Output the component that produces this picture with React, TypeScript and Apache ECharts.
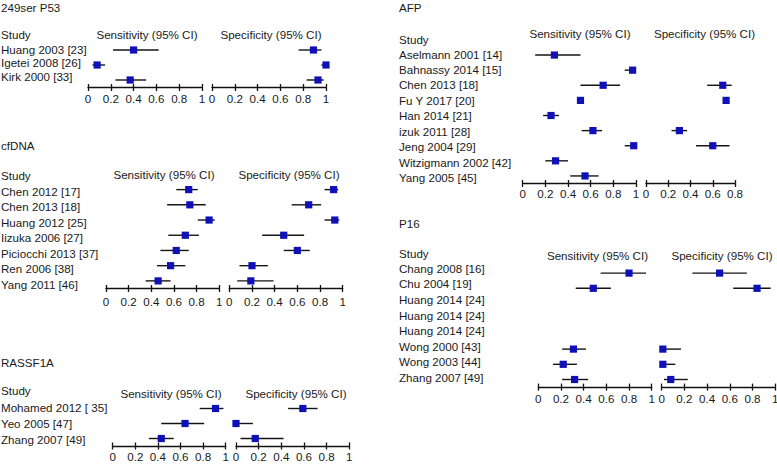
import React, { useEffect, useRef } from "react";
import * as echarts from "echarts";

// ---------- DATA ----------
const p53Studies = ["Huang 2003 [23]", "Igetei 2008 [26]", "Kirk 2000 [33]"];
const p53Sens = [0.4, 0.08, 0.37];
const p53SensLo = [0.22, 0.04, 0.24];
const p53SensHi = [0.62, 0.15, 0.51];
const p53Spec = [0.89, 1.0, 0.93];
const p53SpecLo = [0.76, 0.96, 0.83];
const p53SpecHi = [0.96, 1.0, 0.98];

const cfStudies = ["Chen 2012 [17]", "Chen 2013 [18]", "Huang 2012 [25]", "Iizuka 2006 [27]", "Piciocchi 2013 [37]", "Ren 2006 [38]", "Yang 2011 [46]"];
const cfSens = [0.73, 0.74, 0.91, 0.7, 0.62, 0.57, 0.46];
const cfSensLo = [0.62, 0.54, 0.81, 0.55, 0.48, 0.45, 0.35];
const cfSensHi = [0.81, 0.88, 0.96, 0.82, 0.73, 0.7, 0.57];
const cfSpec = [0.92, 0.7, 0.93, 0.48, 0.6, 0.2, 0.19];
const cfSpecLo = [0.84, 0.55, 0.84, 0.29, 0.48, 0.09, 0.07];
const cfSpecHi = [0.96, 0.81, 0.97, 0.66, 0.71, 0.34, 0.39];

const raStudies = ["Mohamed 2012 [ 35]", "Yeo 2005 [47]", "Zhang 2007 [49]"];
const raSens = [0.91, 0.64, 0.43];
const raSensLo = [0.77, 0.43, 0.32];
const raSensHi = [0.98, 0.81, 0.54];
const raSpec = [0.59, 0.0, 0.17];
const raSpecLo = [0.46, 0.0, 0.04];
const raSpecHi = [0.72, 0.15, 0.42];

const afpStudies = ["Aselmann 2001 [14]", "Bahnassy 2014 [15]", "Chen 2013 [18]", "Fu Y 2017 [20]", "Han 2014 [21]", "izuk 2011 [28]", "Jeng 2004 [29]", "Witzigmann 2002 [42]", "Yang 2005 [45]"];
const afpSens = [0.28, 0.97, 0.71, 0.51, 0.25, 0.62, 0.98, 0.29, 0.55];
const afpSensLo = [0.11, 0.9, 0.51, 0.49, 0.18, 0.52, 0.9, 0.2, 0.42];
const afpSensHi = [0.51, 0.99, 0.86, 0.52, 0.32, 0.7, 0.99, 0.4, 0.67];
const afpSpec = [null, null, 0.69, 0.72, null, 0.3, 0.6, null, null];
const afpSpecLo = [null, null, 0.55, 0.71, null, 0.23, 0.45, null, null];
const afpSpecHi = [null, null, 0.77, 0.73, null, 0.37, 0.75, null, null];

const p16Studies = ["Chang 2008 [16]", "Chu 2004 [19]", "Huang 2014 [24]", "Huang 2014 [24]", "Huang 2014 [24]", "Wong 2000 [43]", "Wong 2003 [44]", "Zhang 2007 [49]"];
const p16Sens = [0.8, 0.485, null, null, null, 0.31, 0.22, 0.32];
const p16SensLo = [0.55, 0.33, null, null, null, 0.21, 0.13, 0.21];
const p16SensHi = [0.95, 0.64, null, null, null, 0.42, 0.34, 0.44];
const p16Spec = [0.51, 0.84, null, null, null, 0.01, 0.01, 0.08];
const p16SpecLo = [0.27, 0.63, null, null, null, 0.0, 0.0, 0.02];
const p16SpecHi = [0.75, 0.96, null, null, null, 0.17, 0.12, 0.23];

const sensHeader = "Sensitivity (95% CI)";
const specHeader = "Specificity (95% CI)";
const studyHeader = "Study";

// ---------- LAYOUT ----------
const FONT = '"Liberation Sans", Arial, Helvetica, sans-serif';
const TXT = "#1a1a1a";
const FS = 11.6;
const MARK = "#1010b8";

type Panel = {
  title: string;
  studies: string[];
  sens: (number | null)[]; sensLo: (number | null)[]; sensHi: (number | null)[];
  spec: (number | null)[]; specLo: (number | null)[]; specHi: (number | null)[];
  tx: number; ty: number; studyY: number; headY: number;
  sensHeadX: number; specHeadX: number;
  sensLeft: number; sensW: number; specLeft: number; specW: number; specMax: number;
  top: number; height: number; labTop: number; labH: number; labX: number; margin: number;
};

const panels: Panel[] = [
  {
    title: "249ser P53", studies: p53Studies,
    sens: p53Sens, sensLo: p53SensLo, sensHi: p53SensHi, spec: p53Spec, specLo: p53SpecLo, specHi: p53SpecHi,
    tx: 1, ty: 7, studyY: 34, headY: 34, sensHeadX: 147, specHeadX: 271,
    sensLeft: 88, sensW: 114, specLeft: 212, specW: 114, specMax: 1,
    top: 42.5, height: 45, labTop: 42.25, labH: 40.5, labX: 0, margin: 5,
  },
  {
    title: "cfDNA", studies: cfStudies,
    sens: cfSens, sensLo: cfSensLo, sensHi: cfSensHi, spec: cfSpec, specLo: cfSpecLo, specHi: cfSpecHi,
    tx: 1, ty: 145, studyY: 175, headY: 174, sensHeadX: 164, specHeadX: 289,
    sensLeft: 106, sensW: 113.3, specLeft: 229.3, specW: 113.4, specMax: 1,
    top: 182, height: 106.5, labTop: 183.25, labH: 108.5, labX: 0, margin: 7,
  },
  {
    title: "RASSF1A", studies: raStudies,
    sens: raSens, sensLo: raSensLo, sensHi: raSensHi, spec: raSpec, specLo: raSpecLo, specHi: raSpecHi,
    tx: 1, ty: 362, studyY: 390, headY: 393, sensHeadX: 171, specHeadX: 296,
    sensLeft: 112.7, sensW: 113, specLeft: 236, specW: 113.3, specMax: 1,
    top: 401, height: 45, labTop: 399.3, labH: 48, labX: 0, margin: 4.5,
  },
  {
    title: "AFP", studies: afpStudies,
    sens: afpSens, sensLo: afpSensLo, sensHi: afpSensHi, spec: afpSpec, specLo: afpSpecLo, specHi: afpSpecHi,
    tx: 399, ty: 7, studyY: 39, headY: 33.5, sensHeadX: 580, specHeadX: 704.5,
    sensLeft: 522.7, sensW: 113.3, specLeft: 646, specW: 89, specMax: 0.8,
    top: 47.5, height: 136, labTop: 46.3, labH: 139, labX: 398, margin: 4,
  },
  {
    title: "P16", studies: p16Studies,
    sens: p16Sens, sensLo: p16SensLo, sensHi: p16SensHi, spec: p16Spec, specLo: p16SpecLo, specHi: p16SpecHi,
    tx: 399, ty: 223, studyY: 253, headY: 255, sensHeadX: 597.5, specHeadX: 722,
    sensLeft: 538.3, sensW: 113.4, specLeft: 661.7, specW: 113.5, specMax: 1,
    top: 265.5, height: 121.6, labTop: 260.5, labH: 124.6, labX: 398, margin: 5.5,
  },
];

function buildOption() {
  const grid: any[] = [];
  const xAxis: any[] = [];
  const yAxis: any[] = [];
  const series: any[] = [];
  const graphic: any[] = [];

  const txt = (text: string, x: number, y: number, align: string) => ({
    type: "text",
    x, y,
    style: { text, fill: TXT, font: `${FS}px ${FONT}`, textAlign: align, textVerticalAlign: "middle" },
  });

  const renderItem = (params: any, api: any) => {
    const row = api.value(0);
    const p = api.coord([api.value(1), row]);
    const pl = api.coord([api.value(2), row]);
    const ph = api.coord([api.value(3), row]);
    return {
      type: "group",
      children: [
        { type: "line", shape: { x1: pl[0], y1: pl[1], x2: ph[0], y2: ph[1] }, style: { stroke: "#151515", lineWidth: 1.4 } },
        { type: "rect", shape: { x: p[0] - 3.6, y: p[1] - 3.6, width: 7.2, height: 7.2 }, style: { fill: MARK } },
      ],
    };
  };

  panels.forEach((pn) => {
    graphic.push(txt(pn.title, pn.tx, pn.ty, "left"));
    graphic.push(txt(studyHeader, pn.tx, pn.studyY, "left"));
    graphic.push(txt(sensHeader, pn.sensHeadX, pn.headY, "center"));
    graphic.push(txt(specHeader, pn.specHeadX, pn.headY, "center"));

    // label grid
    const lg = grid.length;
    grid.push({ left: pn.labX, top: pn.labTop, width: 1, height: pn.labH, show: false, containLabel: false, outerBoundsMode: "none" });
    xAxis.push({ gridIndex: lg, type: "value", show: false, min: 0, max: 1 });
    yAxis.push({
      gridIndex: lg, type: "category", inverse: true, position: "right", data: pn.studies,
      axisLine: { show: false }, axisTick: { show: false }, splitLine: { show: false },
      axisLabel: { interval: 0, margin: 0, align: "left", color: TXT, fontSize: FS, fontFamily: FONT },
    });

    const parts = [
      { left: pn.sensLeft, w: pn.sensW, max: 1, est: pn.sens, lo: pn.sensLo, hi: pn.sensHi },
      { left: pn.specLeft, w: pn.specW, max: pn.specMax, est: pn.spec, lo: pn.specLo, hi: pn.specHi },
    ];
    parts.forEach((pt) => {
      const gi = grid.length;
      grid.push({ left: pt.left, top: pn.top, width: pt.w, height: pn.height, show: false, containLabel: false, outerBoundsMode: "none" });
      const xi = xAxis.length;
      xAxis.push({
        gridIndex: gi, type: "value", min: 0, max: pt.max, interval: 0.2, position: "bottom",
        axisLine: { show: true, onZero: false, lineStyle: { color: "#111", width: 1.3 } },
        axisTick: { show: true, inside: false, length: 3.5, lineStyle: { color: "#111", width: 1.3 } },
        splitLine: { show: false },
        axisLabel: { margin: pn.margin, color: TXT, fontSize: FS, fontFamily: FONT, showMinLabel: true, showMaxLabel: true },
      });
      xAxis.push({
        gridIndex: gi, type: "value", min: 0, max: pt.max, interval: 0.2, position: "bottom",
        axisLine: { show: false, onZero: false },
        axisTick: { show: true, inside: true, length: 3.5, lineStyle: { color: "#111", width: 1.3 } },
        splitLine: { show: false }, axisLabel: { show: false },
      });
      const yi = yAxis.length;
      yAxis.push({ gridIndex: gi, type: "category", inverse: true, show: false, data: pn.studies });
      const data: any[] = [];
      pt.est.forEach((v, i) => {
        if (v == null || pt.lo[i] == null || pt.hi[i] == null) return;
        data.push([i, v, pt.lo[i], pt.hi[i]]);
      });
      series.push({
        type: "custom", xAxisIndex: xi, yAxisIndex: yi, clip: false,
        encode: { y: 0, x: [1, 2, 3] }, data, renderItem,
      });
    });
  });

  return {
    animation: false,
    backgroundColor: "#ffffff",
    textStyle: { fontFamily: FONT },
    grid, xAxis, yAxis, series, graphic,
  };
}

export default function App() {
  const ref = useRef<HTMLDivElement>(null);
  useEffect(() => {
    if (!ref.current) return;
    const chart = echarts.init(ref.current, null, { renderer: "svg" });
    chart.setOption(buildOption() as any);
    return () => chart.dispose();
  }, []);
  return <div ref={ref} style={{ position: "fixed", left: 0, top: 0, width: 777, height: 464, background: "#fff" }} />;
}
